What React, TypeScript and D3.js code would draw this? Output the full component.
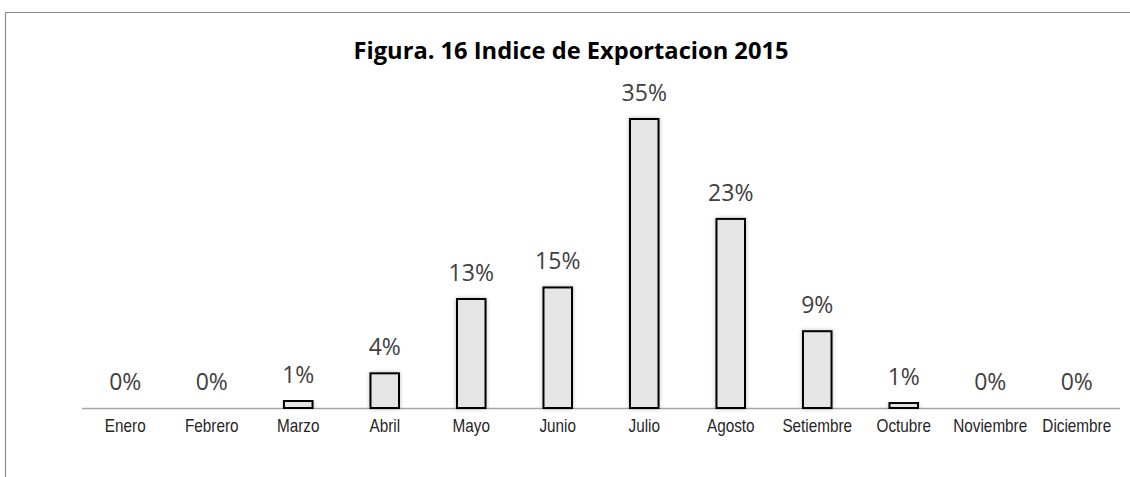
import React from "react";
import * as d3 from "d3";

const months = ["Enero", "Febrero", "Marzo", "Abril", "Mayo", "Junio", "Julio", "Agosto", "Setiembre", "Octubre", "Noviembre", "Diciembre"];
const shares = [0, 0, 0.0085, 0.042, 0.132, 0.146, 0.35, 0.229, 0.093, 0.006, 0, 0];
const valueLabels = ["0%", "0%", "1%", "4%", "13%", "15%", "35%", "23%", "9%", "1%", "0%", "0%"];
const title = "Figura. 16 Indice de Exportacion 2015";

const W = 1130;
const H = 477;
const axisY = 408;
const plotLeft = 82;
const plotRight = 1120;

export default function App() {
  const x = d3.scaleBand<string>().domain(months).range([plotLeft, plotRight]).paddingInner(0.67).paddingOuter(0.335);
  const y = d3.scaleLinear().domain([0, 0.4]).range([axisY, axisY - 0.4 * 825.7]);
  const bw = x.bandwidth();
  return (
    <svg width={W} height={H} style={{ position: "absolute", left: 0, top: 0, background: "#fff" }}>
      <defs>
        <filter id="sh" x="-30%" y="-10%" width="160%" height="120%">
          <feDropShadow dx="0" dy="0" stdDeviation="2.2" floodColor="#000" floodOpacity="0.25" />
        </filter>
      </defs>
      <rect x={0} y={0} width={W} height={H} fill="#fff" />
      <line x1={5.5} y1={12.5} x2={W} y2={12.5} stroke="#8a8a8a" strokeWidth={1.2} />
      <line x1={5.5} y1={12.5} x2={5.5} y2={H} stroke="#8a8a8a" strokeWidth={1.2} />
      <text x={571} y={59} textAnchor="middle" fontFamily="'Open Sans', 'Noto Sans', sans-serif" fontWeight={700} fontSize={24} fill="#000" textLength={435} lengthAdjust="spacingAndGlyphs">
        {title}
      </text>
      <line x1={plotLeft} y1={axisY + 0.5} x2={plotRight} y2={axisY + 0.5} stroke="#a6a6a6" strokeWidth={1.3} />
      {months.map((m, i) => {
        const v = shares[i];
        const bx = x(m) as number;
        const top = y(v);
        const cx = bx + bw / 2;
        return (
          <g key={m}>
            {v > 0 && (
              <rect x={bx} y={top} width={bw} height={axisY - top} fill="#e5e5e5" stroke="#000" strokeWidth={2} filter="url(#sh)" />
            )}
            <text x={cx} y={top - 18} textAnchor="middle" fontFamily="'Open Sans', 'Noto Sans', sans-serif" fontSize={23} fill="#404040">
              {valueLabels[i]}
            </text>
            <text transform={`translate(${cx},432) scale(0.85,1)`} textAnchor="middle" fontFamily="'Liberation Sans', Arial, sans-serif" fontSize={18} fill="#262626">
              {m}
            </text>
          </g>
        );
      })}
    </svg>
  );
}
